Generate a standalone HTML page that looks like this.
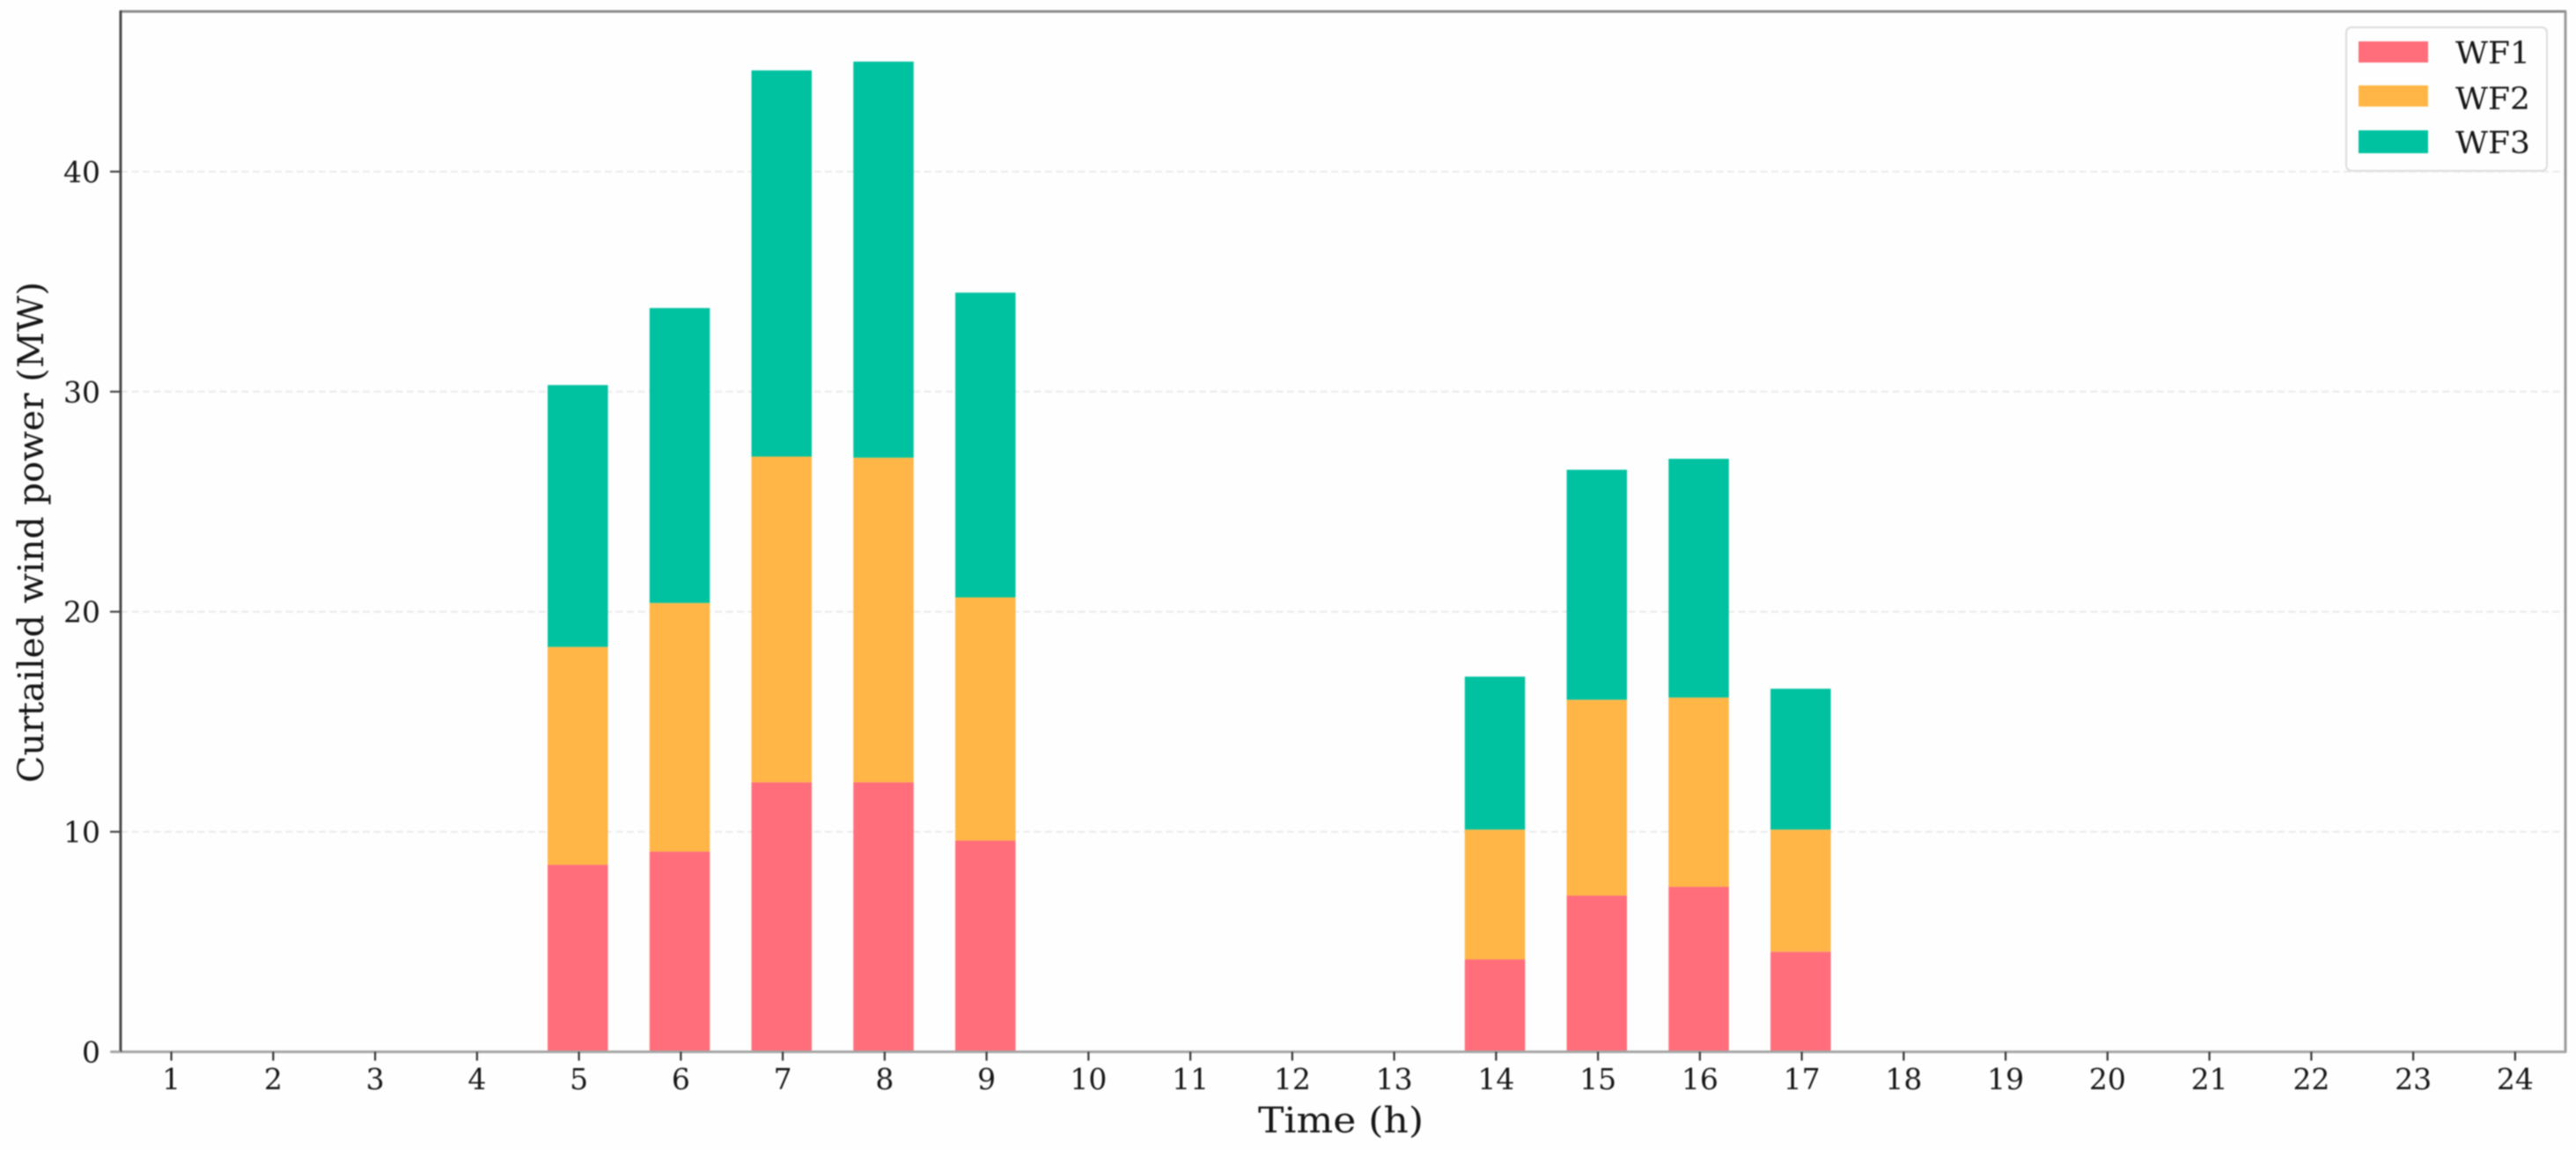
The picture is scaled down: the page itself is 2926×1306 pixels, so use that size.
<!DOCTYPE html>
<html lang="en">
<head>
<meta charset="utf-8">
<title>Curtailed wind power by hour</title>
<style>
html,body{margin:0;padding:0;background:#fff;width:2926px;height:1306px;overflow:hidden}
svg{display:block;filter:blur(0.8px)}
text{font-family:"DejaVu Serif","Liberation Serif",serif;fill:#161616}
</style>
</head>
<body>
<svg id="chart" xmlns="http://www.w3.org/2000/svg" width="2926" height="1306" viewBox="0 0 2926 1306"></svg>
<script>
var hours = ['1','2','3','4','5','6','7','8','9','10','11','12','13','14','15','16','17','18','19','20','21','22','23','24'];
var yTickValues = [0, 10, 20, 30, 40];
var seriesNames = ['WF1', 'WF2', 'WF3'];
var seriesColors = ['#ff6e7a', '#ffb646', '#00c2a0'];
var wf1 = [0,0,0,0,8.5,9.1,12.25,12.25,9.6,0,0,0,0,4.2,7.1,7.5,4.55,0,0,0,0,0,0,0];
var wf2 = [0,0,0,0,9.9,11.3,14.8,14.75,11.05,0,0,0,0,5.9,8.9,8.6,5.55,0,0,0,0,0,0,0];
var wf3 = [0,0,0,0,11.9,13.4,17.55,18,13.85,0,0,0,0,6.95,10.45,10.85,6.4,0,0,0,0,0,0,0];

var NS = 'http://www.w3.org/2000/svg';
var svg = document.getElementById('chart');
var plotLeft = 137, plotRight = 2914, plotTop = 13, plotBottom = 1194.5;
var firstTickX = 194.6, stepX = 115.75, unitY = 24.99, barWidth = 68.5, barOffsetX = -1.3;

function xScale(i) { return firstTickX + i * stepX; }
function yScale(v) { return plotBottom - v * unitY; }
function make(tag, attrs, parent) {
  var el = document.createElementNS(NS, tag);
  for (var k in attrs) el.setAttribute(k, attrs[k]);
  (parent || svg).appendChild(el);
  return el;
}

var bg = make('rect', {x: 0, y: 0, width: 2926, height: 1306, fill: '#fefefe'});



/* gridlines */
yTickValues.forEach(function (v) {
  if (v === 0) return;
  var g = make('line', {x1: plotLeft, x2: plotRight, y1: yScale(v), y2: yScale(v), stroke: '#eaeaea', 'stroke-width': 2, 'stroke-dasharray': '8 4.5'});
  
  
});

/* stacked bars */
var seriesValues = [wf1, wf2, wf3];
hours.forEach(function (h, i) {
  var base = 0;
  seriesValues.forEach(function (vals, s) {
    var v = vals[i];
    if (v > 0) {
      var top = yScale(base + v);
      var r = make('rect', {x: xScale(i) + barOffsetX - barWidth / 2, y: top, width: barWidth, height: yScale(base) - top, fill: seriesColors[s]});
      
      
    }
    base += v;
  });
});

/* spines */
var spineTop = make('line', {x1: plotLeft - 1, x2: plotRight + 1, y1: plotTop, y2: plotTop, stroke: '#8c8c8c', 'stroke-width': 3});


var spineRight = make('line', {x1: plotRight, x2: plotRight, y1: plotTop, y2: plotBottom + 1, stroke: '#9a9a9a', 'stroke-width': 3});


var spineBottom = make('line', {x1: plotLeft - 11, x2: plotRight + 1, y1: plotBottom, y2: plotBottom, stroke: '#a6a6a6', 'stroke-width': 3});


var spineLeft = make('line', {x1: plotLeft, x2: plotLeft, y1: plotTop - 1, y2: plotBottom, stroke: '#4a4a4a', 'stroke-width': 3});



/* x ticks */
hours.forEach(function (h, i) {
  var t = make('line', {x1: xScale(i), x2: xScale(i), y1: plotBottom, y2: plotBottom + 10, stroke: '#333', 'stroke-width': 2.2});
  
  
  var l = make('text', {x: xScale(i), y: 1237, 'text-anchor': 'middle', 'font-size': 33});
  l.textContent = h;
  
  
});

/* y ticks */
yTickValues.forEach(function (v) {
  var t = make('line', {x1: plotLeft - 12, x2: plotLeft, y1: yScale(v), y2: yScale(v), stroke: v === 0 ? '#a6a6a6' : '#444', 'stroke-width': 2.2});
  
  
  var l = make('text', {x: 114, y: yScale(v) + 12, 'text-anchor': 'end', 'font-size': 33});
  l.textContent = String(v);
  
  
});

/* axis titles */
var xTitle = make('text', {x: 1429, y: 1286, 'font-size': 40, textLength: 188, lengthAdjust: 'spacingAndGlyphs'});
xTitle.textContent = 'Time (h)';



var yTitle = make('text', {x: 0, y: 0, 'font-size': 40, textLength: 569, lengthAdjust: 'spacingAndGlyphs', transform: 'translate(49 889) rotate(-90)'});
yTitle.textContent = 'Curtailed wind power (MW)';



/* legend */
var legend = make('g', {});


var legendBox = make('rect', {x: 2665, y: 31, width: 228, height: 163, rx: 6, ry: 6, fill: '#fefefe', stroke: '#dcdcdc', 'stroke-width': 2}, legend);


var legendSwatchY = [47, 97, 148];
var legendSwatchH = [24, 24, 26];
var legendTextY = [72, 124, 174];
seriesNames.forEach(function (name, s) {
  var sw = make('rect', {x: 2679, y: legendSwatchY[s], width: 79, height: legendSwatchH[s], fill: seriesColors[s]}, legend);
  
  
  var tx = make('text', {x: 2789, y: legendTextY[s], 'font-size': 35, textLength: 85, lengthAdjust: 'spacingAndGlyphs'}, legend);
  tx.textContent = name;
  
  
});
</script>
</body>
</html>
